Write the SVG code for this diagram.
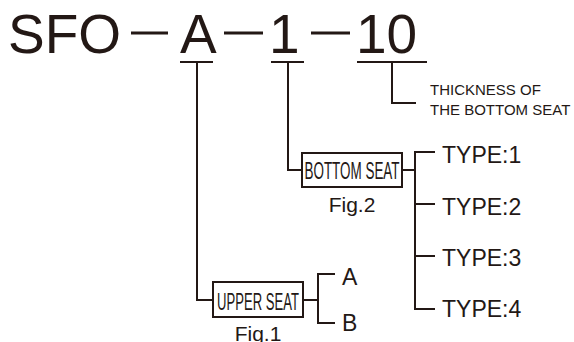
<svg xmlns="http://www.w3.org/2000/svg" width="574" height="342" viewBox="0 0 574 342">
<style>
.ln{stroke:#231815;stroke-width:2;fill:none}
.dash{stroke:#231815;stroke-width:3;fill:none}
.box{stroke:#231815;stroke-width:2;fill:#fff}
text{font-family:"Liberation Sans",Arial,sans-serif;fill:#231815}
.big{font-size:55px}
.mid{font-size:23px}
.sm{font-size:15px}
.fig{font-size:21px;text-anchor:middle}
.cond{font-size:24px;text-anchor:middle}
</style>
<rect width="574" height="342" fill="#fff"/>
<g id="code">
<text class="big" x="8" y="53">SFO</text>
<text class="big" x="180" y="53">A</text>
<text class="big" x="269" y="53">1</text>
<text class="big" x="356" y="53">10</text>
<line class="dash" x1="131" y1="33" x2="168" y2="33"/>
<line class="dash" x1="224" y1="33" x2="263" y2="33"/>
<line class="dash" x1="311" y1="33" x2="350" y2="33"/>
</g>
<g id="connectors">
<line class="ln" x1="180" y1="62" x2="213" y2="62"/>
<line class="ln" x1="271" y1="62" x2="304" y2="62"/>
<line class="ln" x1="357" y1="62" x2="427" y2="62"/>
<polyline class="ln" points="197,62 197,300 213,300"/>
<polyline class="ln" points="288,62 288,170 301,170"/>
<polyline class="ln" points="392,62 392,103 416,103"/>
<polyline class="ln" points="402,170 415,170"/>
<polyline class="ln" points="435,152 415,152 415,309 435,309"/>
<line class="ln" x1="415" y1="204" x2="435" y2="204"/>
<line class="ln" x1="415" y1="256" x2="435" y2="256"/>
<line class="ln" x1="303" y1="300" x2="318" y2="300"/>
<polyline class="ln" points="335,274 318,274 318,323 335,323"/>
</g>
<g id="thickness">
<text class="sm" x="430" y="95">THICKNESS OF</text>
<text class="sm" x="430" y="115">THE BOTTOM SEAT</text>
</g>
<g id="bottom-seat">
<rect class="box" x="302" y="153" width="100" height="34"/>
<text class="cond" transform="translate(352 178.5) scale(0.56 1)">BOTTOM SEAT</text>
<text class="fig" x="352" y="212">Fig.2</text>
</g>
<g id="types">
<text class="mid" x="442" y="163">TYPE:1</text>
<text class="mid" x="442" y="215">TYPE:2</text>
<text class="mid" x="442" y="266">TYPE:3</text>
<text class="mid" x="442" y="317">TYPE:4</text>
</g>
<g id="upper-seat">
<rect class="box" x="213" y="282" width="90" height="35"/>
<text class="cond" transform="translate(258 309.5) scale(0.545 1)">UPPER SEAT</text>
<text class="fig" x="258" y="341">Fig.1</text>
</g>
<g id="ab">
<text class="mid" x="342" y="285">A</text>
<text class="mid" x="342" y="331">B</text>
</g>
</svg>
